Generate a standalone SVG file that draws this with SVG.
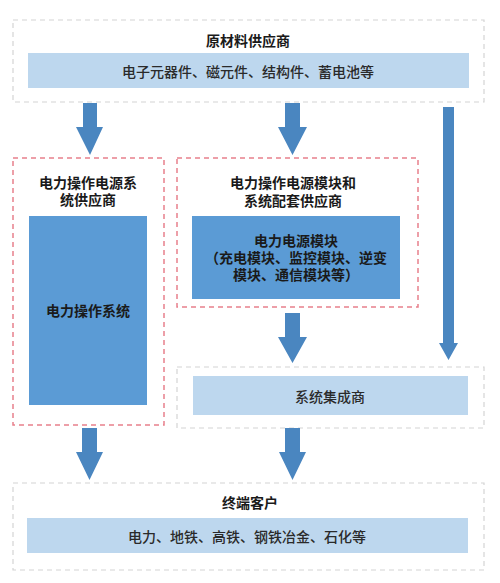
<svg xmlns="http://www.w3.org/2000/svg" width="500" height="583" viewBox="0 0 500 583">
<style>
text{font-family:"Noto Sans CJK SC","Noto Sans",sans-serif;text-anchor:middle;dominant-baseline:central;fill:#1a1a1a}
.t{font-size:14px;font-weight:bold}
.b{font-size:14px;font-weight:500;fill:#2a2a2a}
.gray{fill:#fff;stroke:#d4d4d4;stroke-width:1.2;stroke-dasharray:5 4}
.red{fill:#fff;stroke:#e8808c;stroke-width:1.5;stroke-dasharray:5 4}
.light{fill:#bdd7ee}
.dark{fill:#5b9bd5}
.arr{fill:#4a86c0}
</style>
<rect width="500" height="583" fill="#fff"/>
<g id="raw-suppliers">
<rect class="gray" x="13" y="20" width="471" height="82"/>
<text class="t" x="248" y="40">原材料供应商</text>
<rect class="light" x="28" y="53" width="441" height="35"/>
<text class="b" x="248" y="71">电子元器件、磁元件、结构件、蓄电池等</text>
</g>
<g id="system-suppliers">
<rect class="red" x="13" y="158" width="151" height="267"/>
<text class="t" x="88" y="182">电力操作电源系</text>
<text class="t" x="88" y="199">统供应商</text>
<rect class="dark" x="29" y="216" width="118" height="189"/>
<text class="t" x="88" y="310">电力操作系统</text>
</g>
<g id="module-suppliers">
<rect class="red" x="177" y="158" width="241" height="149"/>
<text class="t" x="293" y="182">电力操作电源模块和</text>
<text class="t" x="293" y="200">系统配套供应商</text>
<rect class="dark" x="192" y="216" width="208" height="83"/>
<text class="t" x="296" y="240">电力电源模块</text>
<text class="t" x="296" y="257">（充电模块、监控模块、逆变</text>
<text class="t" x="296" y="274">模块、通信模块等）</text>
</g>
<g id="integrator">
<rect class="gray" x="177" y="367" width="307" height="61"/>
<rect class="light" x="193" y="376" width="275" height="39"/>
<text class="b" x="330" y="396">系统集成商</text>
</g>
<g id="end-customers">
<rect class="gray" x="13" y="483" width="471" height="87"/>
<text class="t" x="250" y="502">终端客户</text>
<rect class="light" x="27" y="518" width="441" height="35"/>
<text class="b" x="247" y="536">电力、地铁、高铁、钢铁冶金、石化等</text>
</g>
<g id="connectors">
<polygon class="arr" points="83,103 97,103 97,127 103,127 90,155 76,127 83,127"/>
<polygon class="arr" points="285,103 300,103 300,127 307,127 292.5,155 278,127 285,127"/>
<polygon class="arr" points="443,107 454,107 454,343 458,343 448.5,360 439,343 443,343"/>
<polygon class="arr" points="285,313 300,313 300,337 307,337 292.5,363 278,337 285,337"/>
<polygon class="arr" points="82,428 97,428 97,452 103,452 89.5,480 76,452 82,452"/>
<polygon class="arr" points="285,428 300,428 300,452 306,452 292.5,480 279,452 285,452"/>
</g>
</svg>
